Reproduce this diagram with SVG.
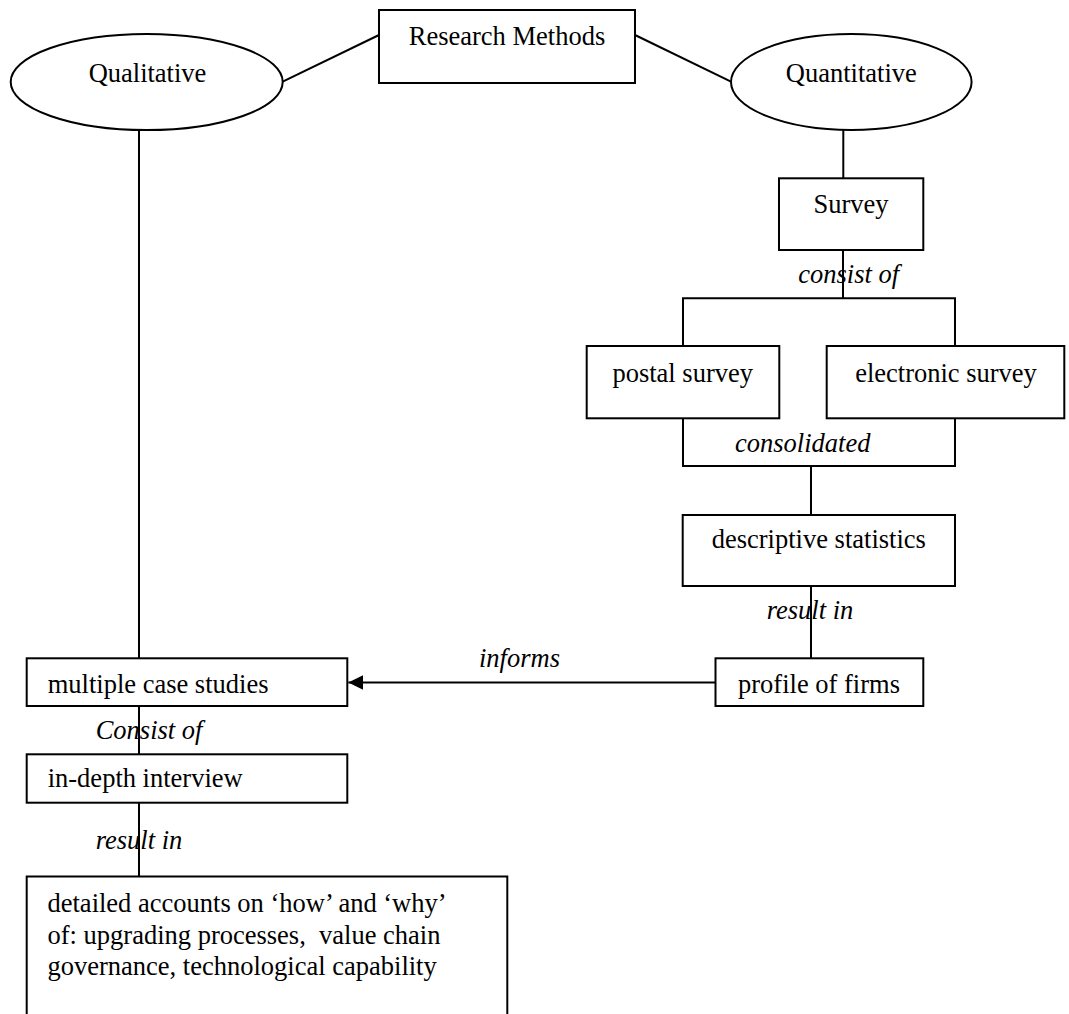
<svg xmlns="http://www.w3.org/2000/svg" width="1069" height="1014" viewBox="0 0 1069 1014">
  <style>
    .box { fill: #ffffff; stroke: #000000; stroke-width: 2; }
    .link { fill: none; stroke: #000000; stroke-width: 2; }
    text { font-family: "Liberation Serif", "Times New Roman", serif; font-size: 26.5px; fill: #000000; }
    .mid { text-anchor: middle; }
    .label { font-style: italic; }
  </style>
  <defs>
    <marker id="arrowhead" markerUnits="userSpaceOnUse" markerWidth="15" markerHeight="15" refX="15" refY="7.5" orient="auto">
      <path d="M0,0 L15,7.5 L0,15 z" fill="#000000"/>
    </marker>
  </defs>

  <rect width="1069" height="1014" fill="#ffffff"/>

  <!-- connectors -->
  <g id="connectors">
    <line class="link" x1="379" y1="35" x2="282.7" y2="81.7"/>
    <line class="link" x1="635" y1="35" x2="731" y2="81.7"/>
    <line class="link" x1="139" y1="130" x2="139" y2="658.3"/>
    <line class="link" x1="843.3" y1="130" x2="843.3" y2="178.3"/>
    <!-- survey split -->
    <line class="link" x1="843" y1="250" x2="843" y2="298.3"/>
    <polyline class="link" points="683,346 683,298.3 955,298.3 955,346"/>
    <!-- consolidation -->
    <polyline class="link" points="683,418.3 683,466 955,466 955,418.3"/>
    <line class="link" x1="811" y1="466" x2="811" y2="515"/>
    <line class="link" x1="811" y1="586" x2="811" y2="658.3"/>
    <!-- informs -->
    <line class="link" x1="715.5" y1="682.5" x2="348.3" y2="682.5" marker-end="url(#arrowhead)"/>
    <line class="link" x1="139" y1="706" x2="139" y2="754.3"/>
    <line class="link" x1="139" y1="802.7" x2="139" y2="876.5"/>
    <!-- connector labels -->
    <text class="label" x="798.3" y="283.3">consist of</text>
    <text class="label" x="735" y="451.7">consolidated</text>
    <text class="label" x="766.7" y="619.3">result in</text>
    <text class="label" x="479" y="667.3">informs</text>
    <text class="label" x="95.7" y="739.3">Consist of</text>
    <text class="label" x="95.7" y="849">result in</text>
  </g>

  <g id="research-methods">
    <rect class="box" x="379" y="10" width="256" height="73"/>
    <text class="mid" x="507" y="45">Research Methods</text>
  </g>

  <g id="qualitative">
    <ellipse class="box" cx="146.7" cy="82" rx="136" ry="48"/>
    <text class="mid" x="147.5" y="81.7">Qualitative</text>
  </g>

  <g id="quantitative">
    <ellipse class="box" cx="851.3" cy="82" rx="120.3" ry="48"/>
    <text class="mid" x="851.3" y="81.7">Quantitative</text>
  </g>

  <g id="survey">
    <rect class="box" x="779" y="178.3" width="144.3" height="71.7"/>
    <text class="mid" x="851" y="213">Survey</text>
  </g>

  <g id="postal-survey">
    <rect class="box" x="586.7" y="346" width="192.6" height="72.3"/>
    <text class="mid" x="682.7" y="381.7">postal survey</text>
  </g>

  <g id="electronic-survey">
    <rect class="box" x="826.7" y="346" width="237.6" height="72.3"/>
    <text class="mid" x="946" y="381.7">electronic survey</text>
  </g>

  <g id="descriptive-statistics">
    <rect class="box" x="682.7" y="515" width="272.3" height="71"/>
    <text class="mid" x="818.8" y="548.3">descriptive statistics</text>
  </g>

  <g id="profile-of-firms">
    <rect class="box" x="715.5" y="658.3" width="207.8" height="47.7"/>
    <text class="mid" x="819" y="693">profile of firms</text>
  </g>

  <g id="multiple-case-studies">
    <rect class="box" x="26.7" y="658.3" width="320.6" height="47.7"/>
    <text x="47.7" y="692.7">multiple case studies</text>
  </g>

  <g id="in-depth-interview">
    <rect class="box" x="26.7" y="754.3" width="320.6" height="48.4"/>
    <text x="47.7" y="787.3">in-depth interview</text>
  </g>

  <g id="detailed-accounts">
    <rect class="box" x="26.7" y="876.5" width="480.6" height="160"/>
    <text x="47.5" y="912" xml:space="preserve">detailed accounts on ‘how’ and ‘why’</text>
    <text x="47.5" y="943.5" xml:space="preserve">of: upgrading processes,  value chain</text>
    <text x="47.5" y="975" xml:space="preserve">governance, technological capability</text>
  </g>
</svg>
